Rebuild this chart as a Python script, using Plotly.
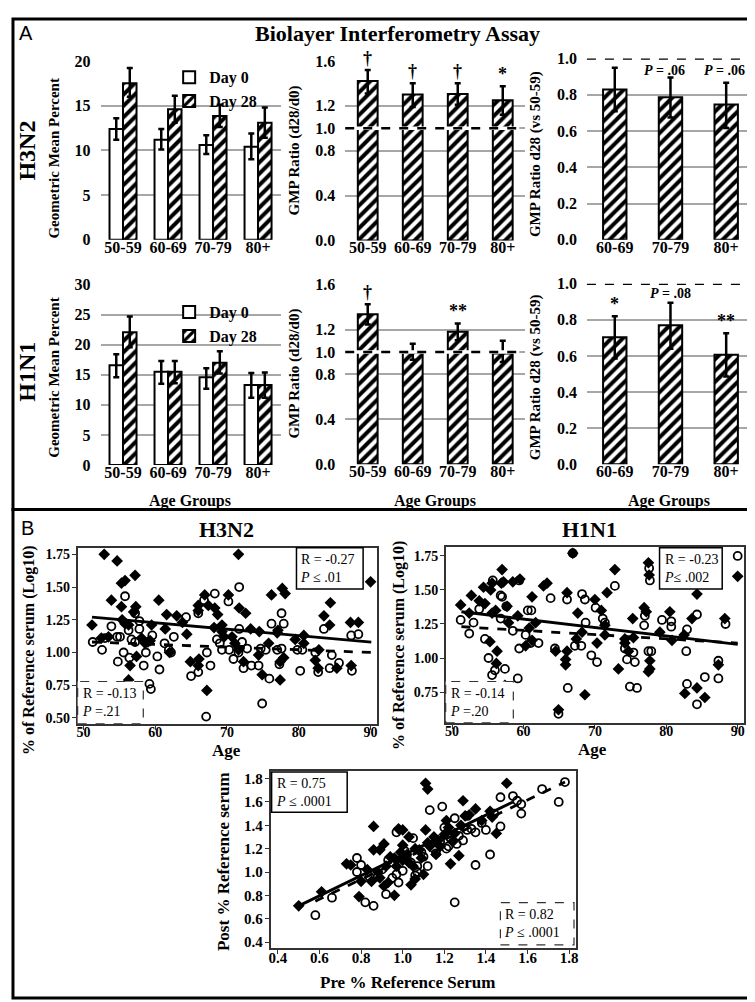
import plotly.graph_objects as go

# ---------------- data ----------------
cats = ["50-59", "60-69", "70-79", "80+"]
cats_vs = ["60-69", "70-79", "80+"]

h3_day0 = [12.4, 11.2, 10.6, 10.4]
h3_day0_hi = [13.6, 12.4, 11.7, 11.9]
h3_day0_lo = [11.2, 10.1, 9.6, 9.0]
h3_day28 = [17.5, 14.6, 13.85, 13.1]
h3_day28_hi = [19.2, 16.1, 15.1, 14.8]
h3_day28_lo = [16.0, 13.1, 12.6, 11.4]
h3_ratio = [1.42, 1.30, 1.305, 1.25]
h3_ratio_hi = [1.52, 1.40, 1.40, 1.375]
h3_ratio_lo = [1.31, 1.19, 1.21, 1.12]
h3_vs = [0.83, 0.787, 0.747]
h3_vs_hi = [0.95, 0.895, 0.866]
h3_vs_lo = [0.71, 0.675, 0.617]

h1_day0 = [16.6, 15.5, 14.6, 13.3]
h1_day0_hi = [18.4, 17.3, 16.1, 15.3]
h1_day0_lo = [14.6, 13.5, 12.7, 11.2]
h1_day28 = [22.1, 15.5, 17.0, 13.3]
h1_day28_hi = [24.7, 17.3, 18.9, 15.4]
h1_day28_lo = [19.6, 13.6, 15.2, 11.2]
h1_ratio = [1.337, 0.993, 1.18, 0.987]
h1_ratio_hi = [1.425, 1.074, 1.255, 1.10]
h1_ratio_lo = [1.244, 0.93, 1.104, 0.91]
h1_vs = [0.704, 0.77, 0.606]
h1_vs_hi = [0.82, 0.895, 0.726]
h1_vs_lo = [0.586, 0.64, 0.486]

h3_ratio_sig = ["†", "†", "†", "*"]
h1_ratio_sig = ["†", "", "**", ""]
h3_vs_sig = ["", "<i>P</i> = .06", "<i>P</i> = .06"]
h1_vs_sig = ["*", "<i>P</i> = .08", "**"]

# scatter: H3N2 (age, value)
h3_dia_age = [51.2, 52.9, 54.7, 55.3, 55.8, 57.2, 53.9, 55.3, 55.4, 55.8, 57.3, 57.0, 56.3, 56.5, 56.3, 57.4, 52.5, 58.1, 58.6, 59.3,
              59.5, 60.5, 61.6, 61.4, 63.0, 63.8, 64.4, 64.9, 66.0, 66.0, 66.9, 66.1, 66.0, 67.2, 67.4, 68.3, 68.7, 69.3, 69.3, 70.2,
              70.7, 71.6, 71.7, 72.6, 71.1, 71.6, 72.3, 73.3, 74.5, 74.4, 74.9, 76.2, 75.8, 77.0, 77.1, 77.7, 78.1, 77.4, 77.4, 77.9,
              79.5, 80.7, 80.7, 82.3, 82.7, 82.8, 83.5, 84.4, 84.3, 85.3, 87.3, 87.2, 88.3, 90.0, 59.0, 68.2, 62.0, 69.6, 53.5]
h3_dia_val = [1.21, 1.75, 1.70, 1.53, 1.55, 1.59, 1.40, 1.35, 1.25, 1.22, 1.35, 1.31, 1.21, 0.90, 0.79, 0.97, 1.11, 1.11, 1.07, 1.09,
              1.21, 1.40, 1.29, 1.18, 1.28, 1.23, 1.14, 0.93, 1.36, 1.32, 1.44, 0.95, 0.90, 0.71, 1.36, 1.34, 1.29, 1.21, 1.16, 1.44,
              1.12, 1.75, 1.34, 1.30, 1.07, 1.02, 0.93, 1.18, 1.16, 0.98, 0.83, 1.44, 1.07, 1.15, 1.17, 1.49, 1.45, 0.79, 0.93, 0.96,
              1.10, 1.13, 1.07, 0.94, 0.88, 1.02, 1.28, 1.38, 1.21, 0.88, 0.90, 1.23, 1.23, 1.54, 1.08, 1.19, 1.00, 1.12, 1.12]
h3_cir_age = [51.3, 52.6, 53.0, 53.9, 54.7, 55.1, 54.8, 55.6, 55.8, 56.3, 56.4, 56.7, 57.2, 57.8, 57.8, 58.4, 58.7, 59.2, 59.4, 59.6,
              60.3, 60.6, 61.3, 61.9, 62.2, 64.3, 65.0, 66.0, 66.0, 67.1, 67.2, 67.7, 68.3, 68.6, 69.0, 70.2, 69.3, 70.3, 70.9, 71.6,
              71.7, 71.7, 72.1, 72.3, 72.8, 73.4, 74.4, 74.7, 74.9, 75.4, 75.9, 76.2, 77.0, 77.3, 77.6, 77.9, 77.6, 80.2, 80.5, 79.8,
              82.3, 82.7, 83.5, 84.3, 84.6, 85.6, 87.4, 87.3, 88.3, 57.2, 66.8, 62.6]
h3_cir_val = [1.08, 1.02, 1.11, 1.20, 1.12, 1.12, 0.93, 1.00, 1.43, 1.17, 0.96, 1.10, 1.30, 1.24, 1.18, 0.90, 1.00, 0.76, 0.72, 1.13,
              0.97, 0.87, 1.07, 1.02, 1.00, 1.27, 0.82, 1.30, 0.85, 0.51, 1.00, 0.90, 1.45, 1.10, 1.07, 1.39, 1.02, 1.02, 0.95, 1.00,
              1.50, 1.18, 1.08, 0.88, 1.03, 0.90, 0.90, 1.03, 0.61, 1.02, 0.80, 1.22, 1.02, 0.91, 1.30, 1.22, 1.03, 0.86, 1.02, 1.02,
              1.00, 0.85, 1.18, 0.88, 0.98, 0.92, 0.86, 1.13, 1.14, 1.08, 1.40, 1.12]

h1_dia_age = [51.2, 52.7, 52.4, 53.8, 54.4, 54.6, 55.4, 55.6, 56.1, 55.6, 55.3, 57.0, 56.9, 57.2, 57.7, 57.9, 58.5, 59.2, 59.5, 56.2,
              56.3, 57.4, 60.3, 61.2, 61.7, 62.8, 63.3, 64.5, 66.1, 66.1, 65.9, 65.9, 64.9, 66.9, 67.6, 67.4, 68.2, 68.6, 70.0, 70.3,
              70.9, 71.4, 71.7, 71.4, 72.8, 73.3, 74.2, 74.2, 74.7, 75.3, 75.4, 76.9, 77.2, 77.5, 77.6, 77.7, 77.7, 77.5, 79.1, 80.5,
              80.8, 82.5, 82.6, 83.6, 84.3, 84.3, 85.4, 87.3, 88.2, 90.0, 61.2, 60.8]
h1_dia_val = [1.39, 1.46, 1.33, 1.42, 1.52, 1.40, 1.50, 1.55, 1.35, 1.33, 1.12, 1.65, 1.55, 1.56, 1.38, 1.26, 1.56, 1.31, 1.58, 0.96,
              1.05, 0.80, 1.09, 1.45, 1.26, 1.53, 1.55, 1.05, 1.48, 1.05, 0.99, 0.95, 0.62, 1.77, 1.33, 1.14, 1.19, 0.73, 1.43, 1.11,
              1.35, 1.24, 1.48, 1.17, 1.65, 0.92, 1.14, 1.11, 1.05, 1.29, 1.15, 1.37, 1.34, 1.70, 1.61, 0.98, 0.92, 0.90, 1.19, 1.34,
              1.13, 1.17, 0.74, 1.29, 1.47, 0.78, 0.71, 0.95, 1.29, 1.60, 1.13, 1.22]
h1_cir_age = [51.2, 52.4, 53.0, 53.8, 55.7, 54.6, 55.1, 55.6, 56.0, 57.0, 56.8, 57.4, 58.5, 59.2, 59.4, 59.4, 60.6, 61.1, 61.0, 62.1,
              63.8, 64.4, 66.1, 66.2, 64.9, 66.9, 67.2, 68.2, 68.6, 68.7, 68.1, 69.5, 70.1, 70.3, 71.1, 71.4, 72.8, 74.5, 74.9, 75.9,
              75.6, 75.4, 76.9, 77.0, 77.5, 77.9, 79.4, 80.7, 80.7, 82.9, 82.8, 82.9, 84.3, 84.3, 85.4, 87.3, 87.3, 88.3, 90.0, 77.6,
              77.7, 74.2, 56.8, 57.6, 60.3]
h1_cir_val = [1.28, 1.18, 1.26, 1.36, 1.57, 1.14, 1.00, 0.875, 0.91, 1.45, 1.29, 0.92, 1.20, 0.85, 1.57, 1.07, 1.35, 1.35, 1.11, 1.11,
              1.44, 1.07, 1.43, 0.78, 0.59, 1.77, 1.09, 1.47, 1.43, 1.26, 1.09, 1.02, 1.37, 0.97, 1.29, 1.26, 1.53, 0.99, 0.79, 0.78,
              0.97, 1.04, 1.24, 1.31, 1.05, 1.05, 1.28, 1.27, 1.23, 1.21, 1.05, 0.81, 1.32, 0.66, 0.86, 0.98, 0.85, 1.25, 1.75, 1.66,
              1.57, 1.07, 1.46, 1.38, 1.17]

pp_dia_pre = [0.50, 0.61, 0.73, 0.75, 0.79, 0.86, 0.86, 0.89, 0.91, 0.91, 0.93, 0.96, 0.94, 0.96, 0.98, 1.00, 1.00, 1.03, 1.02, 1.04,
              1.06, 1.10, 1.11, 1.11, 1.12, 1.16, 1.16, 1.21, 1.23, 1.27, 1.29, 1.30, 1.35, 1.45, 1.50, 1.43, 0.83, 0.89, 1.08, 1.15,
              1.18, 1.32, 0.85, 0.88, 0.97, 1.00, 1.03, 1.06, 1.09, 1.13, 1.17, 1.20, 1.22, 1.25, 1.28, 1.38, 1.42, 0.80, 0.92, 0.99,
              1.05, 1.12, 1.24]
pp_dia_post = [0.71, 0.83, 1.07, 1.06, 0.79, 1.19, 1.39, 1.19, 1.24, 0.88, 0.91, 0.80, 1.13, 1.12, 1.37, 1.36, 1.23, 1.30, 1.15, 0.89,
               0.94, 0.98, 1.36, 1.76, 1.71, 1.27, 1.15, 1.44, 1.07, 1.14, 1.61, 1.48, 1.54, 1.33, 1.76, 1.47, 1.02, 0.95, 1.19, 1.30,
               1.22, 1.49, 0.92, 1.00, 1.05, 1.10, 1.08, 1.20, 1.12, 1.22, 1.27, 1.32, 1.38, 1.33, 1.40, 1.44, 1.52, 0.92, 1.05, 1.17,
               1.05, 1.25, 1.26]
pp_cir_pre = [0.58, 0.66, 0.78, 0.80, 0.78, 0.82, 0.86, 0.84, 0.92, 1.00, 0.97, 1.05, 1.07, 1.07, 1.13, 1.19, 1.25, 1.25, 1.21, 1.31,
              1.35, 1.35, 1.42, 1.47, 1.47, 1.53, 1.55, 1.57, 1.57, 1.67, 1.75, 1.78, 0.90, 0.95, 1.02, 1.09, 1.15, 1.18, 1.23, 1.26,
              1.29, 1.33, 1.38, 1.44, 0.88, 0.97, 1.04, 1.10, 1.16, 1.22, 1.27, 1.31, 0.93, 1.01, 1.12, 1.20, 1.40, 0.98, 1.06]
pp_cir_post = [0.63, 0.78, 1.12, 1.06, 1.00, 0.74, 0.71, 0.96, 0.81, 1.01, 1.34, 1.29, 1.00, 1.05, 1.53, 1.56, 0.74, 1.46, 1.20, 1.48,
               1.06, 1.34, 1.15, 1.64, 1.39, 1.65, 1.61, 1.58, 1.50, 1.71, 1.60, 1.77, 1.02, 0.95, 1.12, 1.17, 1.20, 1.26, 1.29, 1.24,
               1.27, 1.37, 1.42, 1.50, 0.96, 0.98, 1.08, 1.13, 1.16, 1.22, 1.31, 1.36, 1.10, 1.18, 1.05, 1.38, 1.36, 0.91, 0.97]

# fitted regression lines
h3_fit_x = [51.2, 90.1]
h3_fit_dia = [1.27, 1.08]
h3_fit_cir = [1.08, 1.00]
h1_fit_x = [51.3, 90.0]
h1_fit_dia = [1.34, 1.10]
h1_fit_cir = [1.23, 1.11]
pp_fit_dia_x = [0.50, 1.53]
pp_fit_dia_y = [0.71, 1.60]
pp_fit_cir_x = [0.58, 1.78]
pp_fit_cir_y = [0.75, 1.77]

stats_h3 = [["R = -0.27", "<i>P</i> ≤ .01"], ["R = -0.13", "<i>P</i> =.21"]]
stats_h1 = [["R = -0.23", "<i>P</i>≤ .002"], ["R = -0.14", "<i>P</i> =.20"]]
stats_pp = [["R = 0.75", "<i>P</i> ≤ .0001"], ["R = 0.82", "<i>P</i> ≤ .0001"]]

# ---------------- helpers ----------------
W, H = 755, 1002
SERIF = "Liberation Serif"


def fx(p):
    return p / W


def fy(p):
    return 1 - p / H


def errs(v, hi, lo):
    return dict(type="data", symmetric=False,
                array=[h - a for a, h in zip(v, hi)],
                arrayminus=[a - l for a, l in zip(v, lo)],
                color="black", thickness=2.5, width=3)


def bar(x, v, hi, lo, ax, hatched, offset, width, name=None, legend="legend", show=False):
    if hatched:
        pat = dict(shape="/", fgcolor="black", bgcolor="white", fgopacity=1, size=8, solidity=0.5, fillmode="replace")
    else:
        pat = dict(shape="")
    return go.Bar(x=x, y=v, xaxis="x" + ax, yaxis="y" + ax, offset=offset, width=width,
                  marker=dict(color="white", line=dict(color="black", width=2), pattern=pat),
                  error_y=errs(v, hi, lo), name=name, legend=legend, showlegend=show)


fig = go.Figure()

# Panel A bars
fig.add_trace(bar(cats, h3_day0, h3_day0_hi, h3_day0_lo, "", False, -0.3, 0.3, "Day 0", "legend", True))
fig.add_trace(bar(cats, h3_day28, h3_day28_hi, h3_day28_lo, "", True, 0.0, 0.3, "Day 28", "legend", True))
fig.add_trace(bar(cats, h3_ratio, h3_ratio_hi, h3_ratio_lo, "2", True, -0.22, 0.44))
fig.add_trace(bar(cats_vs, h3_vs, h3_vs_hi, h3_vs_lo, "3", True, -0.21, 0.42))
fig.add_trace(bar(cats, h1_day0, h1_day0_hi, h1_day0_lo, "4", False, -0.3, 0.3, "Day 0", "legend2", True))
fig.add_trace(bar(cats, h1_day28, h1_day28_hi, h1_day28_lo, "4", True, 0.0, 0.3, "Day 28", "legend2", True))
fig.add_trace(bar(cats, h1_ratio, h1_ratio_hi, h1_ratio_lo, "5", True, -0.22, 0.44))
fig.add_trace(bar(cats_vs, h1_vs, h1_vs_hi, h1_vs_lo, "6", True, -0.21, 0.42))


def pts(x, y, ax, filled):
    if filled:
        m = dict(symbol="diamond", size=9, color="black")
    else:
        m = dict(symbol="circle-open", size=8, color="black", line=dict(width=1.8, color="black"))
    return go.Scatter(x=x, y=y, xaxis="x" + ax, yaxis="y" + ax, mode="markers", marker=m, showlegend=False)


def fit(x, y, ax, dashed):
    return go.Scatter(x=x, y=y, xaxis="x" + ax, yaxis="y" + ax, mode="lines",
                      line=dict(color="black", width=2.8, dash="dash" if dashed else "solid"), showlegend=False)


fig.add_trace(pts(h3_cir_age, h3_cir_val, "7", False))
fig.add_trace(pts(h3_dia_age, h3_dia_val, "7", True))
fig.add_trace(fit(h3_fit_x, h3_fit_dia, "7", False))
fig.add_trace(fit(h3_fit_x, h3_fit_cir, "7", True))
fig.add_trace(pts(h1_cir_age, h1_cir_val, "8", False))
fig.add_trace(pts(h1_dia_age, h1_dia_val, "8", True))
fig.add_trace(fit(h1_fit_x, h1_fit_dia, "8", False))
fig.add_trace(fit(h1_fit_x, h1_fit_cir, "8", True))
fig.add_trace(pts(pp_cir_pre, pp_cir_post, "9", False))
fig.add_trace(pts(pp_dia_pre, pp_dia_post, "9", True))
fig.add_trace(fit(pp_fit_dia_x, pp_fit_dia_y, "9", False))
fig.add_trace(fit(pp_fit_cir_x, pp_fit_cir_y, "9", True))

tick_font = dict(family=SERIF, size=16, color="black", weight="bold")
GRID = "#a6a6a6"


def bar_x(n, l, r, ncat):
    return dict(domain=[fx(l), fx(r)], anchor="y" + n, type="category", range=[-0.5, ncat - 0.5], showgrid=False,
                showline=False, zeroline=False, ticks="", tickfont=tick_font, ticklabelstandoff=-4, fixedrange=True)


def bar_y(n, t, b, rng, vals, texts):
    return dict(domain=[fy(b), fy(t)], anchor="x" + n, range=rng, tickvals=vals, ticktext=texts, showgrid=True,
                gridcolor=GRID, gridwidth=1.5, showline=False, zeroline=False, ticks="", tickfont=tick_font,
                ticklabelstandoff=9, fixedrange=True)


r16 = [0, 0.4, 0.8, 1.0, 1.2, 1.6]
r16t = ["0.0", "0.4", "0.8", "1.0", "1.2", "1.6"]
r10 = [0, 0.2, 0.4, 0.6, 0.8, 1.0]
r10t = ["0.0", "0.2", "0.4", "0.6", "0.8", "1.0"]

legend_font = dict(family=SERIF, size=16, color="black", weight="bold")
layout = dict(
    width=W, height=H, margin=dict(l=0, r=0, t=0, b=0), paper_bgcolor="white", plot_bgcolor="white",
    barmode="overlay", font=dict(family=SERIF, color="black"),
    xaxis=bar_x("", 91, 272, 4), yaxis=bar_y("", 45.7, 227.7, [0, 20], [0, 5, 10, 15, 20], ["0", "5", "10", "15", "20"]),
    xaxis2=bar_x("2", 337, 518, 4), yaxis2=bar_y("2", 45.7, 228.3, [0, 1.6], r16, r16t),
    xaxis3=bar_x("3", 580, 748, 3), yaxis3=bar_y("3", 43.3, 227.7, [0, 1.0], r10, r10t),
    xaxis4=bar_x("4", 91, 272, 4), yaxis4=bar_y("4", 273.3, 456.7, [0, 30], [0, 5, 10, 15, 20, 25, 30],
                                               ["0", "5", "10", "15", "20", "25", "30"]),
    xaxis5=bar_x("5", 337, 518, 4), yaxis5=bar_y("5", 273.3, 456, [0, 1.6], r16, r16t),
    xaxis6=bar_x("6", 580, 748, 3), yaxis6=bar_y("6", 272.3, 456, [0, 1.0], r10, r10t),
    legend=dict(x=fx(160), y=fy(45), xanchor="left", yanchor="top", bgcolor="rgba(0,0,0,0)",
                font=legend_font, itemwidth=30, tracegroupgap=0),
    legend2=dict(x=fx(160), y=fy(284), xanchor="left", yanchor="top", bgcolor="rgba(0,0,0,0)",
                 font=legend_font, itemwidth=30, tracegroupgap=0),
)


def sc_axis(n, l, r, rng, vals, fmt, horiz, size=14):
    d = dict(range=rng, tickvals=vals, ticktext=[fmt.format(v) for v in vals], ticks="outside", ticklen=4,
             tickwidth=1.2, tickcolor="#333", showline=True, mirror=True, linecolor="#333", linewidth=1.5,
             showgrid=False, zeroline=False, fixedrange=True,
             tickfont=dict(family=SERIF, size=size, color="black", weight="bold"))
    if horiz:
        d["domain"] = [fx(l), fx(r)]
        d["anchor"] = "y" + n
        d["ticklabelstandoff"] = -9
    else:
        d["domain"] = [fy(r), fy(l)]
        d["anchor"] = "x" + n
        d["ticklabelstandoff"] = -1
    return d


ages = [50, 60, 70, 80, 90]
layout["xaxis7"] = sc_axis("7", 68, 369, [49.2, 90.9], ages, "{:d}", True)
layout["yaxis7"] = sc_axis("7", 541, 720, [0.455, 1.80], [0.5, 0.75, 1.0, 1.25, 1.5, 1.75], "{:.2f}", False)
layout["xaxis8"] = sc_axis("8", 438, 738, [49.1, 90.9], ages, "{:d}", True)
layout["yaxis8"] = sc_axis("8", 540, 719, [0.524, 1.817], [0.75, 1.0, 1.25, 1.5, 1.75], "{:.2f}", False)
pp_ticks = [0.4, 0.6, 0.8, 1.0, 1.2, 1.4, 1.6, 1.8]
layout["xaxis9"] = sc_axis("9", 262, 569, [0.365, 1.833], pp_ticks, "{:.1f}", True, 15)
layout["yaxis9"] = sc_axis("9", 768, 948, [0.35, 1.865], pp_ticks, "{:.1f}", False, 15)
fig.update_layout(**layout)

ann = []


def txt(x, y, s, size=16, bold=True, angle=0, family=SERIF, **kw):
    t = "<b>" + s + "</b>" if bold else s
    if angle:
        x = x - (4 + 0.25 * size)  # compensate offset of rotated text
    d = dict(x=fx(x), y=fy(y), xref="paper", yref="paper", text=t, showarrow=False, textangle=angle,
             font=dict(family=family, size=size, color="black"), xanchor="center", yanchor="middle")
    d.update(kw)
    ann.append(d)


txt(16, 17, "A", size=20, bold=False, family="Liberation Sans")
txt(18, 521, "B", size=20, bold=False, family="Liberation Sans")
txt(390, 18, "Biolayer Interferometry Assay", size=22)
txt(27, 137, "H3N2", size=24, angle=-90)
txt(27, 362, "H1N1", size=24, angle=-90)
for yc in (145, 368):
    txt(52, yc, "Geometric Mean Percent", size=15, angle=-90)
for yc in (137, 364):
    txt(294, yc, "GMP Ratio (d28/d0)", size=15, angle=-90)
for yc in (140, 367):
    txt(536, yc, "GMP Ratio d28 (vs 50-59)", size=15, angle=-90)
for xc in (181, 427, 663):
    txt(xc, 493, "Age Groups", size=16)

txt(218, 522, "H3N2", size=22)
txt(583, 522, "H1N1", size=22)
txt(218, 747, "Age", size=17)
txt(586, 746, "Age", size=17)
txt(27, 645, "% of Reference serum (Log10)", size=16, angle=-90)
txt(399, 640, "% of Reference serum (Log10)", size=16, angle=-90)
txt(223, 860, "Post % Reference serum", size=17, angle=-90)
txt(400, 983, "Pre % Reference Serum", size=17)

# significance marks above error bars
for ax, cs, labels, hi in (("2", cats, h3_ratio_sig, h3_ratio_hi), ("5", cats, h1_ratio_sig, h1_ratio_hi),
                           ("6", cats_vs, h1_vs_sig, h1_vs_hi)):
    for c, lab, h in zip(cs, labels, hi):
        if lab:
            ann.append(dict(x=c, y=h, xref="x" + ax, yref="y" + ax, text="<b>" + lab + "</b>", showarrow=False,
                            xanchor="center", yanchor="bottom", yshift=0,
                            font=dict(family=SERIF, size=18 if "P" not in lab else 14, color="black")))
for xc, lab in zip((608, 658, 718), h3_vs_sig):
    if lab:
        ann.append(dict(x=fx(xc), y=fy(55), xref="paper", yref="paper", text="<b>" + lab + "</b>", showarrow=False,
                        xanchor="center", yanchor="middle", font=dict(family=SERIF, size=14, color="black")))

shapes = []


def stat_box(l, t, r, b, lines, dashed):
    shapes.append(dict(type="rect", xref="paper", yref="paper", x0=fx(l), x1=fx(r), y0=fy(b), y1=fy(t),
                       line=dict(color="#333" if dashed else "black", width=1.2 if dashed else 1.5,
                                 dash="dash" if dashed else "solid"),
                       fillcolor="white", layer="above"))
    ann.append(dict(x=fx(l + 2), y=fy((t + b) / 2), xref="paper", yref="paper", text="<br>".join(lines),
                    showarrow=False, align="left", xanchor="left", yanchor="middle",
                    font=dict(family=SERIF, size=14, color="black")))


stat_box(288, 541, 355, 583, stats_h3[0], False)
stat_box(68, 677, 134, 720, stats_h3[1], True)
stat_box(653, 541, 716, 583, stats_h1[0], False)
stat_box(438, 677, 506, 719, stats_h1[1], True)
stat_box(263, 769, 339, 810, stats_pp[0], False)
stat_box(493, 902, 567, 945, stats_pp[1], True)

# reference line at ratio 1.0
for x0, x1, ax in ((337, 512, "2"), (337, 512, "5"), (580, 748, "3"), (580, 748, "6")):
    for col, w, d in (("white", 3.5, "solid"), ("black", 2.5, "dash")):
        shapes.append(dict(type="line", xref="paper", yref="y" + ax, x0=fx(x0), x1=fx(x1), y0=1.0, y1=1.0,
                           line=dict(color=col, width=w, dash=d), layer="above"))

# panel frames
shapes.append(dict(type="rect", xref="paper", yref="paper", x0=fx(3), x1=fx(752), y0=fy(502), y1=fy(3),
                   line=dict(color="black", width=3)))
shapes.append(dict(type="rect", xref="paper", yref="paper", x0=fx(3), x1=fx(752), y0=fy(999), y1=fy(502),
                   line=dict(color="black", width=3)))

fig.update_layout(annotations=ann, shapes=shapes)
fig.write_html("out.html")
